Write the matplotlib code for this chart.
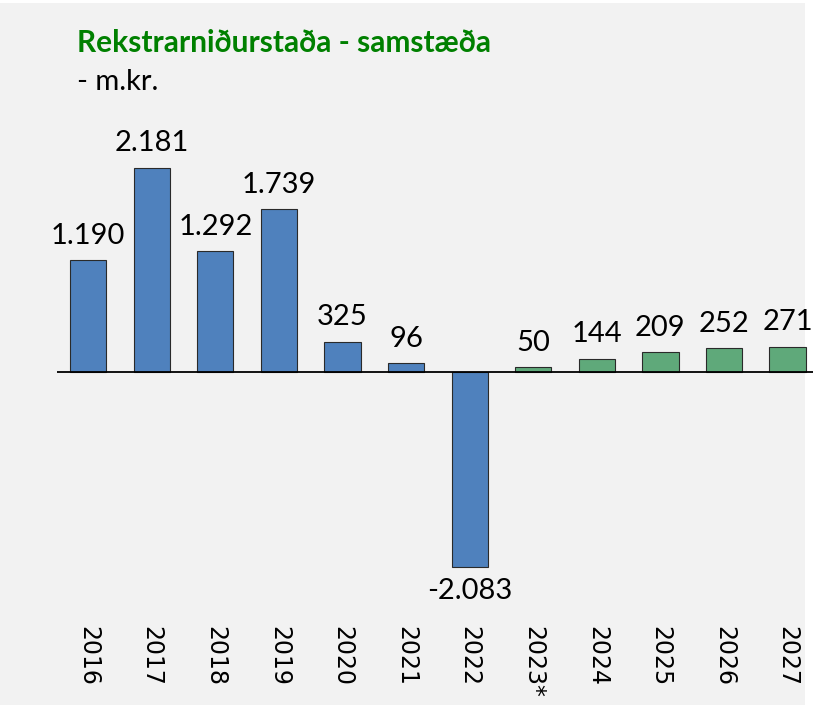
import matplotlib.pyplot as plt
from matplotlib.patches import Rectangle

ar = ["2016", "2017", "2018", "2019", "2020", "2021", "2022", "2023*", "2024", "2025", "2026", "2027"]
gildi = [1190, 2181, 1292, 1739, 325, 96, -2083, 50, 144, 209, 252, 271]
merki = ["1.190", "2.181", "1.292", "1.739", "325", "96", "-2.083", "50", "144", "209", "252", "271"]
litir = ["#4f81bd"] * 7 + ["#5fa97a"] * 5

fig = plt.figure(figsize=(8.13, 7.11), dpi=100)
fig.patch.set_facecolor("white")
# grar bakgrunnur
fig.add_artist(Rectangle((0, 6 / 711), 805 / 813, 702 / 711, transform=fig.transFigure,
                         facecolor="#f2f2f2", edgecolor="none", zorder=0))

ax = fig.add_axes([57 / 813, 111 / 711, 756 / 813, 480 / 711])
ax.set_facecolor("none")
x = list(range(len(ar)))
ax.bar(x, gildi, width=0.57, color=litir, edgecolor="#2a2a2a", linewidth=0.8, zorder=2)
ax.axhline(0, color="black", linewidth=1.3, zorder=3)

for xi, v, m in zip(x, gildi, merki):
    if v >= 0:
        ax.annotate(m, (xi, v), xytext=(0, 8), textcoords="offset points",
                    ha="center", va="bottom", fontsize=21, family="Lato")
    else:
        ax.annotate(m, (xi, v), xytext=(0, -8), textcoords="offset points",
                    ha="center", va="top", fontsize=21, family="Lato")

ax.set_xlim(-0.49, 11.4)
ax.set_ylim(-2433, 2689)
ax.set_xticks(x)
ax.set_xticklabels(ar, rotation=270, fontsize=17, va="top", ha="center")
ax.tick_params(axis="x", length=0, pad=19)
ax.set_yticks([])
for s in ax.spines.values():
    s.set_visible(False)

fig.text(77 / 813, 1 - 52 / 711, "Rekstrarniðurstaða - samstæða", color="#008000",
         fontsize=21.5, fontweight="bold", family="Lato", va="baseline")
fig.text(77 / 813, 1 - 90 / 711, "- m.kr.", color="black", fontsize=21,
         family="Lato", va="baseline")

fig.savefig("out.png", dpi=100)
